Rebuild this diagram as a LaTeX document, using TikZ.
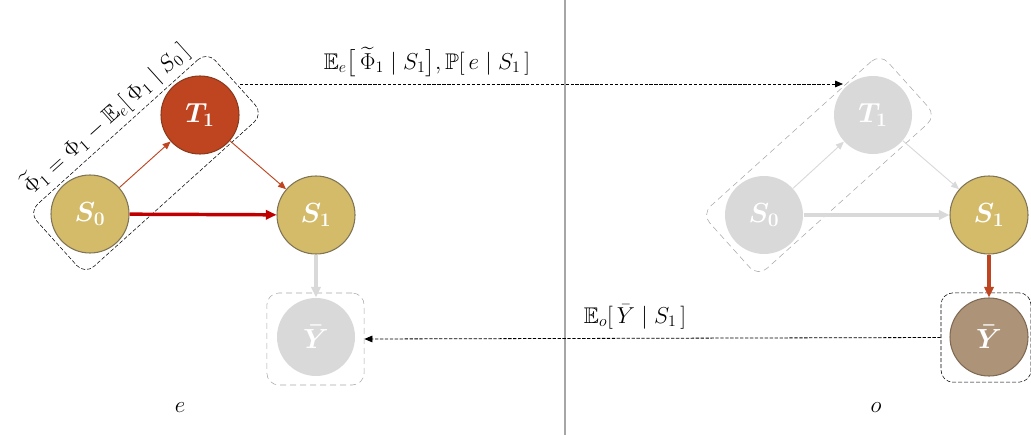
\documentclass[tikz,border=0pt]{standalone}
\usepackage{amsmath}
\usepackage{amssymb}
\usepackage{bm}
\usepackage{tikz}
\usetikzlibrary{arrows.meta}
\definecolor{gold}{RGB}{212,187,105}
\definecolor{goldline}{RGB}{128,116,86}
\definecolor{rust}{RGB}{190,69,32}
\definecolor{rustline}{RGB}{140,58,28}
\definecolor{brownY}{RGB}{173,147,119}
\definecolor{brownline}{RGB}{128,106,85}
\definecolor{fade}{RGB}{217,217,217}
\definecolor{boxgrey}{RGB}{166,166,166}
\definecolor{darkred}{RGB}{192,0,0}
\tikzstyle{var} = [circle, draw = goldline, fill = gold, thick, inner sep = 0pt, minimum size = 58.5pt, text = white, font = \fontsize{20}{24}\selectfont]
\tikzstyle{treat} = [var, draw = rustline, fill = rust]
\tikzstyle{outc} = [var, draw = brownline, fill = brownY]
\tikzstyle{faded} = [var, draw = none, fill = fade]
\tikzstyle{group} = [draw, dash pattern = on 3pt off 1.5pt, rounded corners = 9pt, inner sep = 0pt]
\tikzstyle{fadegroup} = [group, draw = boxgrey, dash pattern = on 4.5pt off 3pt]
\tikzstyle{pairbox} = [minimum width = 180pt, minimum height = 63pt, rotate = 42]
\tikzstyle{edge} = [-{Triangle[length = 6pt, width = 5pt]}, line width = 0.7pt]
\tikzstyle{bigedge} = [-{Triangle[length = 8pt, width = 7pt]}, line width = 2.6pt]
\tikzstyle{msg} = [-{Triangle[length = 6pt, width = 5pt]}, dash pattern = on 2.5pt off 1.2pt, line width = 0.6pt]
\tikzstyle{lbl} = [font = \fontsize{17}{20}\selectfont, inner sep = 1pt]

\begin{document}
\begin{tikzpicture}[x = 0.75pt, y = -0.75pt]
        \useasboundingbox (0, 0) rectangle (1031, 435);
        \draw [boxgrey, line width = 0.8pt] (565, 0) -- (565, 435);
        % environment e
        \node (S0e) at (90, 214) [var] {$\boldsymbol{S_0}$};
        \node (T1e) at (200, 115) [treat] {$\boldsymbol{T_1}$};
        \node (S1e) at (316, 215) [var] {$\boldsymbol{S_1}$};
        \node (Ye) at (316, 337) [faded] {$\boldsymbol{\bar{Y}}$};
        \node (boxE) at (146, 163) [group, pairbox] {};
        \node (phiLbl) at (boxE.north) [lbl, rotate = 42, anchor = south, inner sep = 3pt] {$\widetilde{\Phi}_1 = \Phi_1 - \mathbb{E}_e[\,\Phi_1 \mid S_0\,]$};
        \node (boxYe) at (315.5, 339) [fadegroup, minimum width = 73pt, minimum height = 69pt] {};
        \draw [edge, rust] (S0e) -- (T1e);
        \draw [edge, rust] (T1e) -- (S1e);
        \draw [bigedge, darkred] (S0e) -- (S1e);
        \draw [bigedge, fade] (S1e) -- (Ye);
        % environment o
        \node (S0o) at (764, 215) [faded] {$\boldsymbol{S_0}$};
        \node (T1o) at (873, 115) [faded] {$\boldsymbol{T_1}$};
        \node (S1o) at (989, 215) [var] {$\boldsymbol{S_1}$};
        \node (Yo) at (989, 337) [outc] {$\boldsymbol{\bar{Y}}$};
        \node (boxO) at (819, 165) [fadegroup, pairbox] {};
        \node (boxYo) at (986, 337.5) [group, minimum width = 67.5pt, minimum height = 67pt] {};
        \draw [edge, fade] (S0o) -- (T1o);
        \draw [edge, fade] (T1o) -- (S1o);
        \draw [bigedge, fade] (S0o) -- (S1o);
        \draw [bigedge, rust] (S1o) -- (Yo);
        % messages
        \coordinate (phiOut) at (240, 84);
        \coordinate (phiIn) at (843, 84);
        \draw [msg] (phiOut) -- (phiIn);
        \node (msgTop) at (427, 62) [lbl] {$\mathbb{E}_e\big[\,\widetilde{\Phi}_1 \mid S_1\big], \mathbb{P}[\,e \mid S_1\,]$};
        \draw [msg] (boxYo.west) -- (boxYe.east);
        \node (msgBot) at (635, 317) [lbl] {$\mathbb{E}_o[\,\bar{Y} \mid S_1\,]$};
        \node (envE) at (180, 408) [lbl] {$e$};
        \node (envO) at (876, 408) [lbl] {$o$};
    \end{tikzpicture}
\end{document}
